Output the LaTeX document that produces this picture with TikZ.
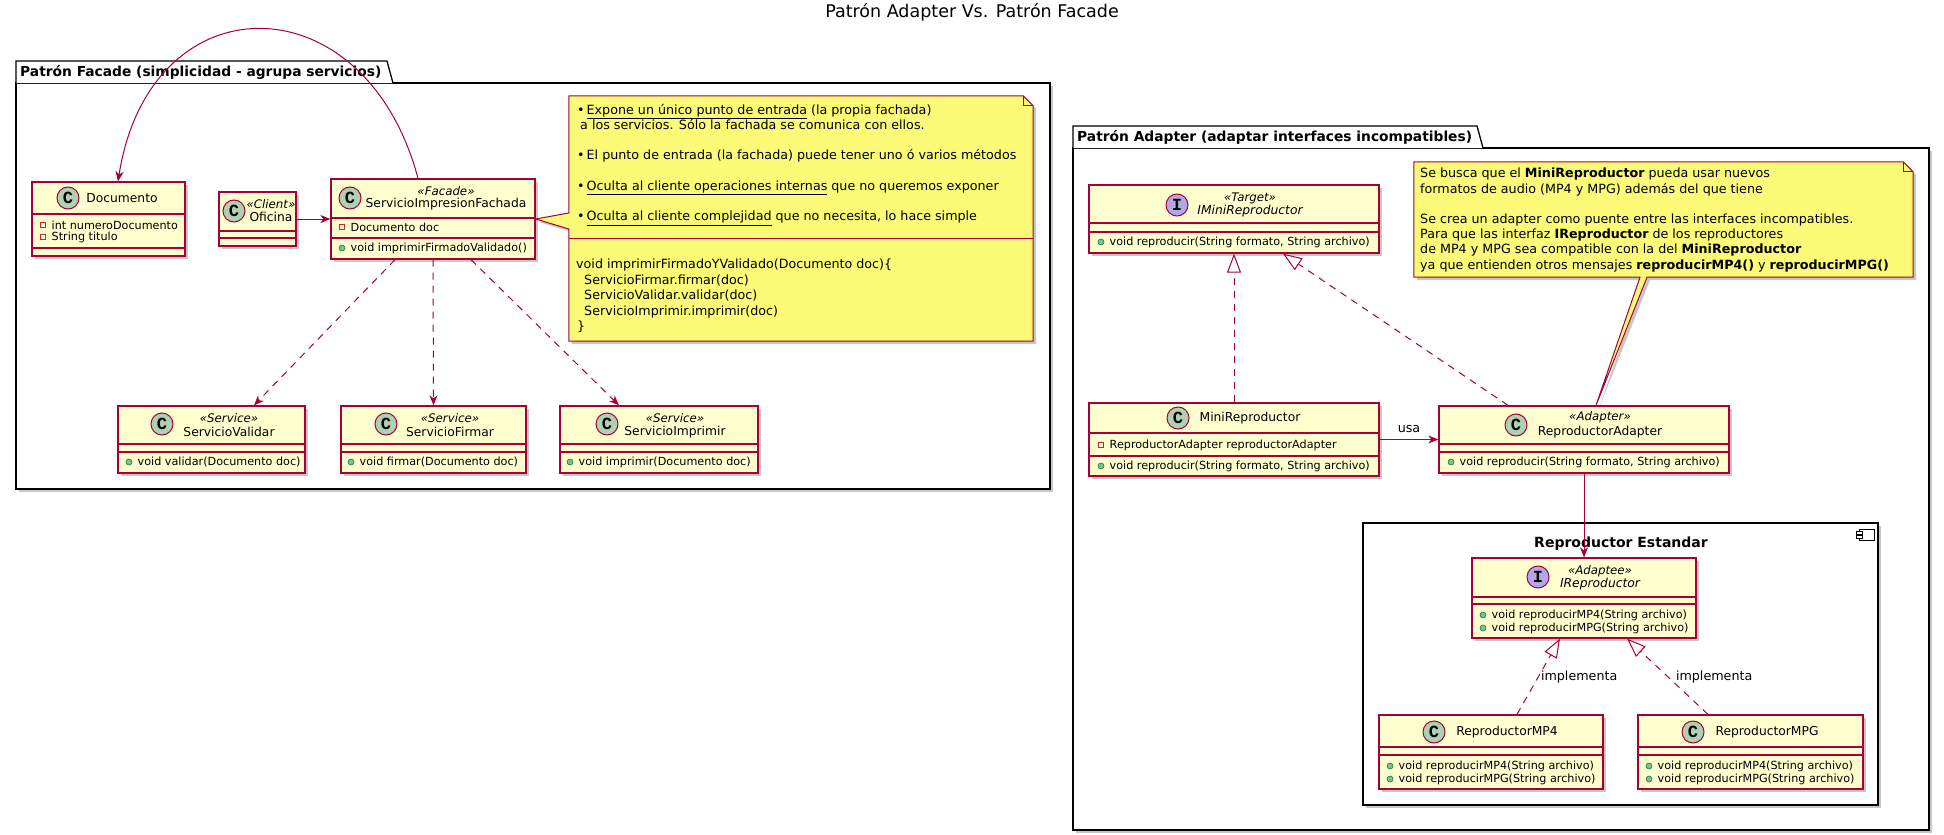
\documentclass[tikz,border=0pt]{standalone}
\usepackage{fontspec}
\setmainfont{DejaVu Sans}
\newfontfamily\spotfont{Liberation Mono}
\usetikzlibrary{arrows.meta}
\usetikzlibrary{shadows}

\definecolor{umlred}{HTML}{A80036}
\definecolor{umlfill}{HTML}{FEFECE}
\definecolor{notefill}{HTML}{FBFB77}
\definecolor{spotgreen}{HTML}{ADD1B2}
\definecolor{spotviolet}{HTML}{B4A7E5}
\definecolor{privred}{HTML}{C82930}
\definecolor{pubgreen}{HTML}{84BE84}
\definecolor{publine}{HTML}{038048}

\tikzset{
  shade3/.style={drop shadow={shadow xshift=3pt, shadow yshift=-3pt, fill=black, opacity=0.22}},
  pkgbody/.style={draw=black, fill=white, line width=1.3pt, inner sep=0pt, shade3},
  umlclass/.style={draw=umlred, fill=umlfill, line width=1.3pt, inner sep=0pt, shade3},
  compline/.style={umlred, line width=1.1pt},
  spotcirc/.style={circle, draw=umlred, line width=1pt, minimum size=22pt, inner sep=0pt, font=\spotfont\bfseries\fontsize{17}{17}\selectfont},
  cname/.style={font=\fontsize{12.3}{14}\selectfont, inner sep=0pt},
  cnameit/.style={font=\fontsize{12.3}{14}\selectfont\itshape, inner sep=0pt},
  cstereo/.style={font=\fontsize{11.8}{13}\selectfont\itshape, inner sep=0pt},
  member/.style={font=\fontsize{11.2}{13}\selectfont, anchor=west, inner sep=0pt},
  privicon/.style={draw=privred, line width=0.8pt, minimum size=5.5pt, inner sep=0pt},
  pubicon/.style={circle, draw=publine, fill=pubgreen, line width=0.6pt, minimum size=6pt, inner sep=0pt},
  conn/.style={umlred, line width=1pt},
  assoc/.style={conn, -{Stealth[length=10pt, width=8pt, inset=3pt]}},
  dep/.style={assoc, dash pattern=on 7pt off 6pt},
  realize/.style={conn, dash pattern=on 7pt off 6pt, -{Triangle[open, fill=white, length=19pt, width=14pt]}},
  notebox/.style={inner sep=0pt},
  notedraw/.style={draw=umlred, fill=notefill, line width=1pt, shade3},
  notetext/.style={font=\fontsize{12.7}{15.2}\selectfont, align=left, inner sep=0pt, anchor=north west},
  pkgtitle/.style={font=\bfseries\fontsize{13.8}{16}\selectfont, inner sep=0pt, anchor=west},
  lbl/.style={font=\fontsize{12.7}{15}\selectfont, text=black, inner sep=2pt}
}

\newcommand{\umlbox}[7]{%
  \node[umlclass, minimum width={(#4-#2)*1pt}, minimum height={(#5-#3)*1pt}] (#1) at ({(#2+#4)/2},{(#3+#5)/2}) {};
  \draw[compline] (#2,#6) -- (#4,#6) (#2,#7) -- (#4,#7);
}
\newcommand{\umlspot}[5]{\node[spotcirc, fill=#4] (#1) at (#2,#3) {#5};}
\newcommand{\privm}[4]{\node[privicon] (#1i) at (#2,#3) {}; \node[member] (#1) at (#2+8.5,#3) {#4};}
\newcommand{\pubm}[4]{\node[pubicon] (#1i) at (#2,#3) {}; \node[member] (#1) at (#2+8.5,#3) {#4};}

\begin{document}
\begin{tikzpicture}[x=1pt, y=-1pt]
\useasboundingbox (0,0) rectangle (1944,835);

\node[font=\fontsize{17.5}{20}\selectfont, inner sep=0pt] (title) at (972,12) {Patrón Adapter Vs. Patrón Facade};

% paquete Facade
\node[pkgbody, minimum width=1034pt, minimum height=406pt] (pkgfacade) at (533,286) {};
\draw[line width=1.3pt, fill=white] (16,83) -- (16,61) -- (387,61) -- (393,83);
\node[pkgtitle] (pkgfacadetab) at (20,72) {Patrón Facade (simplicidad - agrupa servicios)};

% paquete Adapter
\node[pkgbody, minimum width=856pt, minimum height=682pt] (pkgadapter) at (1501,489) {};
\draw[line width=1.3pt, fill=white] (1073,148) -- (1073,126) -- (1477,126) -- (1483,148);
\node[pkgtitle] (pkgadaptertab) at (1077,137) {Patrón Adapter (adaptar interfaces incompatibles)};

% componente
\node[pkgbody, minimum width=515pt, minimum height=282pt] (comp) at (1620.5,664) {};
\node[font=\bfseries\fontsize{14}{16}\selectfont, inner sep=0pt] (comptitle) at (1621,544) {Reproductor Estandar};
\draw[line width=1pt, fill=white] (1859,529) rectangle (1874,540);
\draw[line width=1pt, fill=white] (1856,531) rectangle (1862,534) (1856,535) rectangle (1862,538);

% clases Facade
\umlbox{doc}{32}{182}{185}{256}{214}{248}
\umlspot{docspot}{68}{198}{spotgreen}{C}
\node[cname] (docname) at (122,198) {Documento};
\privm{docatta}{43}{225}{int numeroDocumento}
\privm{docattb}{43}{237}{String titulo}

\umlbox{ofi}{219}{192}{296}{246}{231}{238}
\umlspot{ofispot}{234}{211}{spotgreen}{C}
\node[cstereo] (ofist) at (271,204) {«Client»};
\node[cname] (ofiname) at (271,217) {Oficina};

\umlbox{fach}{331}{179}{535}{259}{218}{238}
\umlspot{fachspot}{350}{198}{spotgreen}{C}
\node[cstereo] (fachst) at (446,191) {«Facade»};
\node[cname] (fachname) at (446,204) {ServicioImpresionFachada};
\privm{fachatt}{342}{227}{Documento doc}
\pubm{fachmet}{342}{248}{void imprimirFirmadoValidado()}

\umlbox{sval}{118}{406}{305}{473}{444}{452}
\umlspot{svalspot}{162}{424}{spotgreen}{C}
\node[cstereo] (svalst) at (229,418) {«Service»};
\node[cname] (svalname) at (229,432) {ServicioValidar};
\pubm{svalmet}{129}{462}{void validar(Documento doc)}

\umlbox{sfir}{341}{406}{526}{473}{444}{452}
\umlspot{sfirspot}{386}{424}{spotgreen}{C}
\node[cstereo] (sfirst) at (450,418) {«Service»};
\node[cname] (sfirname) at (450,432) {ServicioFirmar};
\pubm{sfirmet}{351}{462}{void firmar(Documento doc)}

\umlbox{simp}{560}{406}{758}{473}{444}{452}
\umlspot{simpspot}{607}{424}{spotgreen}{C}
\node[cstereo] (simpst) at (675,418) {«Service»};
\node[cname] (simpname) at (675,432) {ServicioImprimir};
\pubm{simpmet}{570}{462}{void imprimir(Documento doc)}

% clases Adapter
\umlbox{imini}{1089}{185}{1379}{253}{223}{232}
\umlspot{iminispot}{1177}{205}{spotviolet}{I}
\node[cstereo] (iminist) at (1250,198) {«Target»};
\node[cnameit] (imininame) at (1250,211) {IMiniReproductor};
\pubm{iminimet}{1101}{242}{void reproducir(String formato, String archivo)}

\umlbox{mini}{1089}{403}{1379}{476}{433}{456}
\umlspot{minispot}{1178}{418}{spotgreen}{C}
\node[cname] (mininame) at (1250,418) {MiniReproductor};
\privm{miniatt}{1101}{445}{ReproductorAdapter reproductorAdapter}
\pubm{minimet}{1101}{466}{void reproducir(String formato, String archivo)}

\umlbox{radapt}{1439}{406}{1729}{473}{444}{452}
\umlspot{radaptspot}{1516}{425}{spotgreen}{C}
\node[cstereo] (radaptst) at (1600,417) {«Adapter»};
\node[cname] (radaptname) at (1600,432) {ReproductorAdapter};
\pubm{radaptmet}{1451}{462}{void reproducir(String formato, String archivo)}

\umlbox{irep}{1472}{558}{1696}{638}{597}{604}
\umlspot{irepspot}{1538}{577}{spotviolet}{I}
\node[cstereo] (irepst) at (1600,571) {«Adaptee»};
\node[cnameit] (irepname) at (1600,584) {IReproductor};
\pubm{irepmeta}{1483}{615}{void reproducirMP4(String archivo)}
\pubm{irepmetb}{1483}{628}{void reproducirMPG(String archivo)}

\umlbox{mpfour}{1379}{715}{1603}{789}{747}{755}
\umlspot{mpfourspot}{1434}{732}{spotgreen}{C}
\node[cname] (mpfourname) at (1507,732) {ReproductorMP4};
\pubm{mpfourmeta}{1390}{766}{void reproducirMP4(String archivo)}
\pubm{mpfourmetb}{1390}{779}{void reproducirMPG(String archivo)}

\umlbox{mpg}{1638}{715}{1863}{789}{747}{755}
\umlspot{mpgspot}{1693}{732}{spotgreen}{C}
\node[cname] (mpgname) at (1767,732) {ReproductorMPG};
\pubm{mpgmeta}{1649}{766}{void reproducirMP4(String archivo)}
\pubm{mpgmetb}{1649}{779}{void reproducirMPG(String archivo)}

% conectores
\draw[assoc] (ofi) -- (fach);
\draw[assoc] ([xshift=-15pt]fach.north) .. controls (365,-21) and (150,-21) .. ([xshift=9.5pt]doc.north);
\draw[dep] ([xshift=-38pt]fach.south) -- ([xshift=42.5pt]sval.north);
\draw[dep] (fach.south) -- (sfir.north);
\draw[dep] ([xshift=38pt]fach.south) -- ([xshift=-40pt]simp.north);

\draw[realize] (mini.north) -- (imini.south);
\draw[realize] ([xshift=-76pt]radapt.north) -- ([xshift=49pt]imini.south);
\draw[assoc] (mini) -- node[lbl, above=4.5pt] (usa) {usa} (radapt);
\draw[assoc] (radapt) -- (irep);
\draw[realize] ([xshift=26pt]mpfour.north) -- node[lbl, right] (impla) {implementa} ([xshift=-24pt]irep.south);
\draw[realize] ([xshift=-42.5pt]mpg.north) -- node[lbl, right=6pt] (implb) {implementa} ([xshift=43pt]irep.south);

% notas
\node[notebox, minimum width=464pt, minimum height=245pt] (noteA) at (801,218.5) {};
\draw[notedraw] (noteA.north west) -- ([xshift=-10pt]noteA.north east) -- ([yshift=-10pt]noteA.north east) -- (noteA.south east) -- (noteA.south west) -- ([yshift=-10.5pt]noteA.west) -- (fach.east) -- ([yshift=5.5pt]noteA.west) -- cycle;
\draw[umlred, line width=1pt] ([xshift=-10pt]noteA.north east) |- ([yshift=-10pt]noteA.north east);
\draw[umlred, line width=1pt] (569,238) -- (1033,238);
\node[notetext] (noteAtext) at (577,104) {•\hspace{2pt}\underline{Expone un único punto de entrada} (la propia fachada)\\
\hspace*{3pt}a los servicios. Sólo la fachada se comunica con ellos.\\[15.2pt]
•\hspace{2pt}El punto de entrada (la fachada) puede tener uno ó varios métodos\\[15.2pt]
•\hspace{2pt}\underline{Oculta al cliente operaciones internas} que no queremos exponer\\[15.2pt]
•\hspace{2pt}\underline{Oculta al cliente complejidad} que no necesita, lo hace simple};
\node[notetext, font=\fontsize{12.7}{15.4}\selectfont] (noteAcode) at (576,259) {void imprimirFirmadoYValidado(Documento doc)\{\\
\hspace*{8pt}ServicioFirmar.firmar(doc)\\
\hspace*{8pt}ServicioValidar.validar(doc)\\
\hspace*{8pt}ServicioImprimir.imprimir(doc)\\
\hspace*{1pt}\}};

\node[notebox, minimum width=499pt, minimum height=115pt] (noteB) at (1663.5,219.5) {};
\draw[notedraw] (noteB.north west) -- ([xshift=-10pt]noteB.north east) -- ([yshift=-10pt]noteB.north east) -- (noteB.south east) -- ([xshift=-16.5pt]noteB.south) -- ([xshift=12pt]radapt.north) -- ([xshift=-23.5pt]noteB.south) -- (noteB.south west) -- cycle;
\draw[umlred, line width=1pt] ([xshift=-10pt]noteB.north east) |- ([yshift=-10pt]noteB.north east);
\node[notetext] (noteBtext) at (1420,168) {Se busca que el \textbf{MiniReproductor} pueda usar nuevos\\
formatos de audio (MP4 y MPG) además del que tiene\\[15.2pt]
Se crea un adapter como puente entre las interfaces incompatibles.\\
Para que las interfaz \textbf{IReproductor} de los reproductores\\
de MP4 y MPG sea compatible con la del \textbf{MiniReproductor}\\
ya que entienden otros mensajes \textbf{reproducirMP4()} y \textbf{reproducirMPG()}};
\end{tikzpicture}
\end{document}
